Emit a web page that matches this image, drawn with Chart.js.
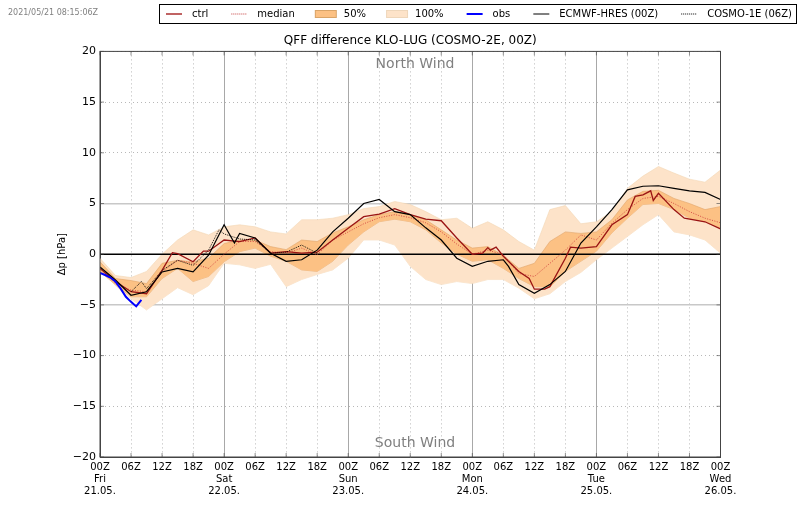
<!DOCTYPE html>
<html>
<head>
<meta charset="utf-8">
<style>
  html, body { margin: 0; padding: 0; background: #fff; }
  #wrap { width: 800px; height: 509px; }
</style>
<script src="https://cdn.jsdelivr.net/npm/chart.js@4/dist/chart.umd.min.js"></script>
</head>
<body>
<div id="wrap"><canvas id="chart" width="800" height="509"></canvas></div>
<script>
// lead time in hours from 21.05. 00Z, ensemble output read every 3h
const hours = [0,3,6,9,12,15,18,21,24,27,30,33,36,39,42,45,48,51,54,57,60,63,66,69,72,75,78,81,84,87,90,93,96,99,102,105,108,111,114,117,120];

const band100Upper = [-0.4,-2.1,-2.3,-1.7,0,1.4,2.4,1.9,2.7,2.9,2.7,2.2,2,3.4,3.4,3.55,3.9,4.5,4.7,5.2,4.9,4.2,3.4,3.55,2.55,3.2,2.4,1.25,0.4,4.4,4.8,3,3.2,4.2,6.5,7.7,8.65,8,7.4,7.1,8.3];
const band100Lower = [-1.4,-3.1,-4.4,-5.5,-4.4,-3.3,-4,-3.1,-0.9,-1.05,-1.4,-1,-3.2,-2.5,-2,-1.55,-0.4,1.4,1.4,0.9,-1.2,-2.5,-3,-2.7,-2.9,-2.5,-2.5,-3.35,-4.4,-3.9,-2.7,-1.8,-0.55,0.6,1.75,2.9,3.9,2.2,1.9,1.4,0.1];
const band50Upper = [-0.75,-2.4,-2.6,-2.9,-0.9,-0.6,-0.75,-0.4,1.05,1.4,1.4,0.75,0.45,1.4,1.25,2.1,2.7,3.4,3.9,4.2,3.9,3.4,2.4,1.4,0.6,0.75,-0.1,-1.4,-0.9,1.25,2.2,2.05,2.2,3.4,5.35,6.2,6.3,5.5,5,4.4,4.7];
const band50Lower = [-1.75,-3,-4.2,-4.2,-2.4,-1.4,-2.7,-2.2,-0.75,0.25,0.6,-0.2,-0.7,-1.55,-1.7,-0.7,0.9,2.2,3.2,3.45,3.2,2.4,1.1,0,-0.7,-0.55,-1.4,-2.4,-3.2,-3.25,-1.7,-0.7,0.3,2.1,3.55,4.9,5,4.4,3.55,3.2,2.55];
const median = [-1.4,-2.9,-3.55,-3.7,-1.75,-0.6,-0.9,-1.4,0,1.25,1.25,0.25,0.1,0.6,-0.05,1.4,2.2,3,3.6,3.9,3.6,3.1,2.2,1,0,0.4,-0.05,-1.9,-2.2,-0.9,0.4,1.9,1.4,3.05,4.4,5.5,5.7,5,4.2,3.55,3.1];

const ctrlHours = [0,3,6,9,12,14,15,18,20,21,24,27,30,33,36,39,42,45,48,51,54,57,60,63,66,69,72,74,75,75.5,76.6,78,81,83,84,86,87,90,91,93,96,99,102,103.5,105,106.5,107,108,111,113,117,120];
const ctrl = [-1.4,-2.7,-3.7,-3.9,-1.6,0.15,0.05,-0.75,0.3,0.3,1.4,1.25,1.6,0.1,0.25,0.1,0.2,1.4,2.55,3.7,3.95,4.5,3.9,3.45,3.3,1.6,0,0.1,0.65,0.4,0.7,-0.2,-1.7,-2.4,-3.45,-3.45,-3.2,-0.4,0.7,0.6,0.75,2.9,3.9,5.7,5.85,6.25,5.3,6,4.4,3.55,3.2,2.5];

const hresHours = [0,3,6,9,12,15,18,21,24,26,27,30,33,36,39,42,45,48,51,54,57,60,63,66,69,72,75,78,79,81,84,87,90,93,96,99,102,105,108,111,114,117,120];
const hres = [-1.25,-2.55,-4.05,-3.7,-1.75,-1.4,-1.75,-0.1,2.9,1.1,2.05,1.6,0.1,-0.7,-0.55,0.4,2.2,3.55,5,5.4,4.2,3.9,2.6,1.4,-0.4,-1.2,-0.7,-0.55,-1.2,-3,-3.85,-3,-1.7,1.1,2.7,4.4,6.35,6.7,6.75,6.5,6.25,6.1,5.4];

const cosmo1Hours = [6,8,9,12,15,18,21,23,24,27,30,33,36,39,42];
const cosmo1 = [-3.7,-2.7,-3.4,-1.6,-0.6,-1.1,0.4,2.4,2,1.5,1.4,0.1,0.2,0.9,0.1];
const obsHours = [0,1,2,3,4,5,6,7,8];
const obs = [-1.85,-2.05,-2.3,-2.7,-3.4,-4.2,-4.7,-5.15,-4.5];
const zeroHours = [0,120];
const zeroLine = [0,0];

const xTickLabels = {
  0: ['00Z','Fri','21.05.'], 6: '06Z', 12: '12Z', 18: '18Z',
  24: ['00Z','Sat','22.05.'], 30: '06Z', 36: '12Z', 42: '18Z',
  48: ['00Z','Sun','23.05.'], 54: '06Z', 60: '12Z', 66: '18Z',
  72: ['00Z','Mon','24.05.'], 78: '06Z', 84: '12Z', 90: '18Z',
  96: ['00Z','Tue','25.05.'], 102: '06Z', 108: '12Z', 114: '18Z',
  120: ['00Z','Wed','26.05.']
};

const FONT = '"DejaVu Sans"';
const BAND50 = '#fcc184';
const BAND100 = '#fde3c9';

function pts(xs, ys) {
  return xs.map((x, i) => ({ x: x, y: ys[i] }));
}

// legend swatch, 43 wide with the visible part on the right so the gap between entries is kept
function lineSwatch(color, width, dash) {
  const c = document.createElement('canvas');
  c.width = 43; c.height = 10;
  const g = c.getContext('2d');
  g.strokeStyle = color;
  g.lineWidth = width;
  g.setLineDash(dash || []);
  g.beginPath();
  g.moveTo(22, 5);
  g.lineTo(38, 5);
  g.stroke();
  return c;
}

function rectSwatch(fill, edge) {
  const c = document.createElement('canvas');
  c.width = 43; c.height = 10;
  const g = c.getContext('2d');
  g.fillStyle = fill;
  g.strokeStyle = edge;
  g.fillRect(19, 1, 22, 8);
  g.strokeRect(19.5, 1.5, 21, 7);
  return c;
}

// legend rows are listed by hand, draw order does not match legend order
const legendEntries = [
  { text: 'ctrl', pointStyle: lineSwatch('#a52020', 1.4) },
  { text: 'median', pointStyle: lineSwatch('#c84040', 1, [1, 1]) },
  { text: '50%', pointStyle: rectSwatch(BAND50, '#d9a468') },
  { text: '100%', pointStyle: rectSwatch(BAND100, '#eed6ba') },
  { text: 'obs', pointStyle: lineSwatch('#0000ff', 2) },
  { text: 'ECMWF-HRES (00Z)', pointStyle: lineSwatch('#000', 1) },
  { text: 'COSMO-1E (06Z)', pointStyle: lineSwatch('#000', 1, [1, 1]) }
];

// canvas extras: legend frame, plot frame, inward ticks, run time and wind labels
const chartExtras = {
  id: 'chartExtras',
  beforeDraw(chart) {
    chart.legend.left = 143;
    chart.legend.right = 830;
  },
  afterDraw(chart) {
    const ctx = chart.ctx;
    const area = chart.chartArea;
    ctx.save();
    ctx.strokeStyle = '#000';
    ctx.lineWidth = 1;
    ctx.strokeRect(159.5, 4.5, 637, 19);

    ctx.strokeStyle = '#444';
    ctx.strokeRect(area.left, area.top, area.right - area.left, area.bottom - area.top);

    // inward ticks
    ctx.lineWidth = 0.6;
    chart.scales.x.ticks.forEach(t => {
      const px = chart.scales.x.getPixelForValue(t.value);
      ctx.beginPath();
      ctx.moveTo(px, area.bottom); ctx.lineTo(px, area.bottom - 4);
      ctx.moveTo(px, area.top); ctx.lineTo(px, area.top + 4);
      ctx.stroke();
    });
    chart.scales.y.ticks.forEach(t => {
      const py = chart.scales.y.getPixelForValue(t.value);
      ctx.beginPath();
      ctx.moveTo(area.left, py); ctx.lineTo(area.left + 4, py);
      ctx.moveTo(area.right, py); ctx.lineTo(area.right - 4, py);
      ctx.stroke();
    });

    ctx.fillStyle = '#808080';
    ctx.font = '8px ' + FONT;
    ctx.textAlign = 'left';
    ctx.textBaseline = 'middle';
    ctx.fillText('2021/05/21 08:15:06Z', 8, 12.5);
    ctx.font = '14px ' + FONT;
    ctx.textAlign = 'center';
    ctx.fillText('North Wind', 415, 64);
    ctx.fillText('South Wind', 415, 443);
    ctx.restore();
  }
};

new Chart(document.getElementById('chart'), {
  type: 'line',
  data: {
    datasets: [
      { label: 'zero', data: pts(zeroHours, zeroLine), borderColor: '#000', borderWidth: 1.5, order: 5 },
      { label: 'COSMO-1E (06Z)', data: pts(cosmo1Hours, cosmo1), borderColor: '#000', borderWidth: 0.9, borderDash: [1, 1], order: 1 },
      { label: 'ECMWF-HRES (00Z)', data: pts(hresHours, hres), borderColor: '#000', borderWidth: 1.2, order: 2 },
      { label: 'obs', data: pts(obsHours, obs), borderColor: '#0000ff', borderWidth: 2, order: 0 },
      { label: 'ctrl', data: pts(ctrlHours, ctrl), borderColor: '#9a1414', borderWidth: 1.3, order: 3 },
      { label: 'median', data: pts(hours, median), borderColor: '#d04040', borderWidth: 0.9, borderDash: [1, 1.5], order: 4 },
      { label: '50%', data: pts(hours, band50Upper), borderColor: '#e0a66c', borderWidth: 0.6, backgroundColor: BAND50, fill: '+1', order: 6 },
      { label: '50% lower', data: pts(hours, band50Lower), borderColor: '#e0a66c', borderWidth: 0.6, order: 7 },
      { label: '100%', data: pts(hours, band100Upper), borderColor: '#f3d6b6', borderWidth: 0.6, backgroundColor: BAND100, fill: '+1', order: 8 },
      { label: '100% lower', data: pts(hours, band100Lower), borderColor: '#f3d6b6', borderWidth: 0.6, order: 9 }
    ]
  },
  options: {
    responsive: false,
    animation: false,
    devicePixelRatio: 1,
    elements: { point: { radius: 0 }, line: { tension: 0, borderCapStyle: 'butt' } },
    layout: { padding: { left: 0, right: 79.5, top: 8, bottom: 0 } },
    scales: {
      x: {
        type: 'linear',
        min: 0,
        max: 120,
        afterFit(scale) { scale.height = 52; },
        afterBuildTicks(scale) {
          scale.ticks = Object.keys(xTickLabels).map(k => ({ value: Number(k) }));
        },
        border: {
          color: '#444',
          width: 1,
          dash: ctx => ctx.tick && ctx.tick.value % 24 === 0 ? [] : [1, 3]
        },
        grid: {
          drawTicks: false,
          color: ctx => ctx.tick && ctx.tick.value % 24 === 0 ? '#a8a8a8' : '#b8b8b8',
          lineWidth: 1
        },
        ticks: {
          autoSkip: false,
          maxRotation: 0,
          padding: 4,
          color: '#000',
          font: { family: FONT, size: 10 },
          callback: v => xTickLabels[v]
        }
      },
      y: {
        min: -20,
        max: 20,
        afterFit(scale) { scale.width = 100; },
        border: {
          color: '#444',
          width: 1,
          dash: ctx => ctx.tick && Math.abs(ctx.tick.value) === 5 ? [] : [1, 3]
        },
        grid: {
          drawTicks: false,
          color: ctx => ctx.tick && Math.abs(ctx.tick.value) === 5 ? '#c8c8c8' : '#b8b8b8',
          lineWidth: ctx => ctx.tick && Math.abs(ctx.tick.value) === 5 ? 1.5 : 1
        },
        title: { display: true, text: '\u0394p [hPa]', color: '#000', font: { family: FONT, size: 10 }, padding: { top: 56, bottom: 0 } },
        ticks: {
          stepSize: 5,
          padding: 4,
          color: '#000',
          font: { family: FONT, size: 11 },
          callback: v => String(v).replace('-', '\u2212')
        }
      }
    },
    plugins: {
      title: {
        display: true,
        fullSize: false,
        text: 'QFF difference KLO-LUG (COSMO-2E, 00Z)',
        color: '#000',
        font: { family: FONT, size: 12, weight: 'normal' },
        padding: { top: 5, bottom: 3 }
      },
      legend: {
        display: true,
        position: 'top',
        align: 'start',
        weight: 3000,
        labels: {
          usePointStyle: true,
          pointStyleWidth: 43,
          boxHeight: 8,
          padding: 1,
          color: '#000',
          font: { family: FONT, size: 10 },
          generateLabels: () => legendEntries.map(e => Object.assign({ fontColor: '#000' }, e))
        }
      },
      tooltip: { enabled: false }
    }
  },
  plugins: [chartExtras]
});
</script>
</body>
</html>
